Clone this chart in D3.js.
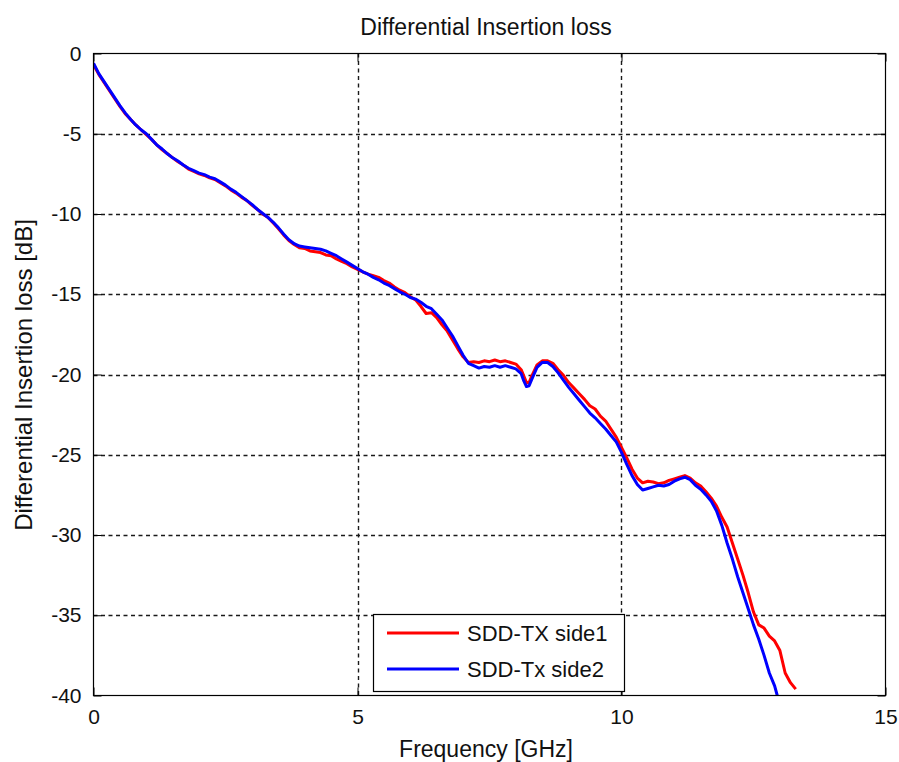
<!DOCTYPE html>
<html>
<head>
<meta charset="utf-8">
<script src="https://cdn.jsdelivr.net/npm/d3@7"></script>
<style>
  html, body { margin: 0; padding: 0; background: #fff; }
  svg { display: block; }
  text { font-family: "Liberation Sans", Arial, sans-serif; fill: #111; }
</style>
</head>
<body>
<svg id="chart" width="899" height="762"></svg>
<script>
// Measured differential insertion loss (dB) versus frequency (GHz)
const freqSide1 = [0.0,0.1,0.2,0.3,0.4,0.5,0.6,0.7,0.8,0.9,1.0,1.1,1.2,1.3,1.4,1.5,1.6,1.7,1.8,1.9,2.0,2.1,2.2,2.3,2.4,2.5,2.6,2.7,2.8,2.9,3.0,3.1,3.2,3.3,3.4,3.5,3.6,3.7,3.8,3.9,4.0,4.1,4.2,4.3,4.4,4.5,4.6,4.7,4.8,4.9,5.0,5.1,5.2,5.3,5.4,5.5,5.6,5.7,5.8,5.9,6.0,6.1,6.2,6.3,6.4,6.5,6.6,6.7,6.8,6.9,7.0,7.1,7.2,7.3,7.4,7.5,7.6,7.7,7.8,7.9,8.0,8.1,8.15,8.2,8.25,8.3,8.4,8.5,8.6,8.7,8.8,8.9,9.0,9.1,9.2,9.3,9.4,9.5,9.6,9.7,9.8,9.9,10.0,10.1,10.2,10.3,10.4,10.5,10.6,10.7,10.8,10.9,11.0,11.1,11.2,11.3,11.4,11.5,11.6,11.7,11.8,11.9,12.0,12.1,12.2,12.3,12.4,12.5,12.6,12.7,12.8,12.9,13.0,13.1,13.2,13.3];
const lossSide1 = [-0.7,-1.3,-1.8,-2.3,-2.8,-3.3,-3.75,-4.1,-4.45,-4.75,-5.05,-5.35,-5.7,-6.0,-6.25,-6.5,-6.75,-6.95,-7.2,-7.35,-7.5,-7.6,-7.75,-7.85,-8.05,-8.25,-8.5,-8.7,-8.95,-9.15,-9.45,-9.7,-10.0,-10.2,-10.55,-10.9,-11.3,-11.65,-11.9,-12.1,-12.15,-12.3,-12.35,-12.4,-12.55,-12.6,-12.8,-12.95,-13.1,-13.3,-13.45,-13.6,-13.75,-13.85,-13.95,-14.15,-14.3,-14.55,-14.75,-14.9,-15.15,-15.35,-15.75,-16.2,-16.15,-16.45,-16.9,-17.3,-17.85,-18.4,-18.9,-19.25,-19.2,-19.25,-19.15,-19.2,-19.1,-19.2,-19.15,-19.25,-19.35,-19.7,-20.1,-20.5,-20.5,-20.1,-19.4,-19.15,-19.15,-19.3,-19.7,-20.05,-20.5,-20.85,-21.2,-21.55,-21.95,-22.15,-22.6,-22.9,-23.4,-23.9,-24.55,-25.2,-25.9,-26.45,-26.75,-26.65,-26.7,-26.8,-26.75,-26.6,-26.5,-26.4,-26.3,-26.45,-26.75,-26.95,-27.3,-27.7,-28.2,-28.9,-29.5,-30.5,-31.5,-32.5,-33.6,-34.8,-35.6,-35.8,-36.3,-36.6,-37.2,-38.6,-39.2,-39.6,-40.0];

const freqSide2 = [0.0,0.1,0.2,0.3,0.4,0.5,0.6,0.7,0.8,0.9,1.0,1.1,1.2,1.3,1.4,1.5,1.6,1.7,1.8,1.9,2.0,2.1,2.2,2.3,2.4,2.5,2.6,2.7,2.8,2.9,3.0,3.1,3.2,3.3,3.4,3.5,3.6,3.7,3.8,3.9,4.0,4.1,4.2,4.3,4.4,4.5,4.6,4.7,4.8,4.9,5.0,5.1,5.2,5.3,5.4,5.5,5.6,5.7,5.8,5.9,6.0,6.1,6.2,6.3,6.4,6.5,6.6,6.7,6.8,6.9,7.0,7.1,7.2,7.3,7.4,7.5,7.6,7.7,7.8,7.9,8.0,8.1,8.15,8.2,8.25,8.3,8.4,8.5,8.6,8.7,8.8,8.9,9.0,9.1,9.2,9.3,9.4,9.5,9.6,9.7,9.8,9.9,10.0,10.1,10.2,10.3,10.4,10.5,10.6,10.7,10.8,10.9,11.0,11.1,11.2,11.3,11.4,11.5,11.6,11.7,11.8,11.9,12.0,12.1,12.2,12.3,12.4,12.5,12.6,12.7,12.8,12.9,12.95];
const lossSide2 = [-0.6,-1.25,-1.75,-2.25,-2.75,-3.25,-3.7,-4.1,-4.45,-4.75,-5.0,-5.35,-5.7,-5.95,-6.25,-6.5,-6.7,-6.95,-7.15,-7.3,-7.45,-7.55,-7.7,-7.8,-8.0,-8.2,-8.45,-8.65,-8.9,-9.15,-9.4,-9.7,-9.95,-10.2,-10.5,-10.85,-11.25,-11.6,-11.85,-12.0,-12.05,-12.1,-12.15,-12.2,-12.3,-12.45,-12.6,-12.8,-13.0,-13.2,-13.4,-13.6,-13.75,-13.95,-14.1,-14.3,-14.45,-14.65,-14.85,-15.0,-15.2,-15.3,-15.5,-15.75,-15.9,-16.25,-16.6,-17.1,-17.6,-18.2,-18.8,-19.3,-19.45,-19.6,-19.5,-19.55,-19.45,-19.55,-19.45,-19.55,-19.65,-19.95,-20.4,-20.75,-20.7,-20.3,-19.55,-19.25,-19.25,-19.5,-19.9,-20.35,-20.8,-21.2,-21.6,-22.0,-22.4,-22.7,-23.05,-23.4,-23.8,-24.2,-24.85,-25.6,-26.3,-26.85,-27.2,-27.1,-27.0,-26.9,-26.95,-26.85,-26.65,-26.5,-26.4,-26.55,-26.9,-27.15,-27.5,-27.9,-28.5,-29.4,-30.5,-31.5,-32.6,-33.6,-34.6,-35.6,-36.5,-37.5,-38.6,-39.4,-40.0];

const seriesNames = ["SDD-TX side1", "SDD-Tx side2"];
const seriesColors = ["#ff0000", "#0000ff"];
const xTicks = [0, 5, 10, 15];
const yTicks = [0, -5, -10, -15, -20, -25, -30, -35, -40];

const svg = d3.select("#chart");
const margin = { left: 93.5, right: 885.5, top: 53.5, bottom: 695.5 };

const x = d3.scaleLinear().domain([0, 15]).range([margin.left, margin.right]);
const y = d3.scaleLinear().domain([-40, 0]).range([margin.bottom, margin.top]);

// plot background
svg.append("rect")
  .attr("x", margin.left).attr("y", margin.top)
  .attr("width", margin.right - margin.left).attr("height", margin.bottom - margin.top)
  .attr("fill", "#fff");

// dashed grid
const grid = svg.append("g").attr("stroke", "#1a1a1a").attr("stroke-width", 1.4).attr("stroke-dasharray", "4,3.5");
grid.selectAll("line.gx").data(xTicks.slice(1, -1)).join("line")
  .attr("x1", d => Math.round(x(d)) + 0.5).attr("x2", d => Math.round(x(d)) + 0.5)
  .attr("y1", margin.top).attr("y2", margin.bottom);
grid.selectAll("line.gy").data(yTicks.slice(1, -1)).join("line")
  .attr("y1", d => Math.round(y(d)) + 0.5).attr("y2", d => Math.round(y(d)) + 0.5)
  .attr("x1", margin.left).attr("x2", margin.right);

// axes with inward ticks on all four sides; labels use a plain hyphen for negatives
const tickLen = 8;
const plain = d => String(d);
const axBottom = d3.axisBottom(x).tickValues(xTicks).tickSize(-tickLen).tickPadding(14).tickFormat(plain);
const axTop = d3.axisTop(x).tickValues(xTicks).tickSize(-tickLen).tickFormat("");
const axLeft = d3.axisLeft(y).tickValues(yTicks).tickSize(-tickLen).tickPadding(12).tickFormat(plain);
const axRight = d3.axisRight(y).tickValues(yTicks).tickSize(-tickLen).tickFormat("");

function styleAxis(g) {
  g.selectAll("path.domain").remove();
  g.selectAll("line").attr("stroke", "#000");
  g.selectAll("text").style("font-size", "21px").attr("fill", "#111");
}
svg.append("g").attr("transform", `translate(0,${margin.bottom})`).call(axBottom).call(styleAxis);
svg.append("g").attr("transform", `translate(0,${margin.top})`).call(axTop).call(styleAxis);
svg.append("g").attr("transform", `translate(${margin.left},0)`).call(axLeft).call(styleAxis);
svg.append("g").attr("transform", `translate(${margin.right},0)`).call(axRight).call(styleAxis);

// clip traces to the plot box
svg.append("clipPath").attr("id", "plotClip").append("rect")
  .attr("x", margin.left).attr("y", margin.top)
  .attr("width", margin.right - margin.left).attr("height", margin.bottom - margin.top);

const line = d3.line().x(d => x(d[0])).y(d => y(d[1]));
const series = [
  d3.zip(freqSide1, lossSide1),
  d3.zip(freqSide2, lossSide2)
];
svg.append("g").attr("clip-path", "url(#plotClip)")
  .selectAll("path").data(series).join("path")
  .attr("d", line)
  .attr("fill", "none")
  .attr("stroke", (d, i) => seriesColors[i])
  .attr("stroke-width", 3)
  .attr("stroke-linejoin", "round");

// frame
svg.append("rect")
  .attr("x", margin.left).attr("y", margin.top)
  .attr("width", margin.right - margin.left).attr("height", margin.bottom - margin.top)
  .attr("fill", "none").attr("stroke", "#000").attr("stroke-width", 1.2);

// titles
svg.append("text").attr("x", 486).attr("y", 35).attr("text-anchor", "middle")
  .style("font-size", "23px").text("Differential Insertion loss");
svg.append("text").attr("x", 486).attr("y", 757).attr("text-anchor", "middle")
  .style("font-size", "23px").text("Frequency [GHz]");
svg.append("text").attr("transform", "translate(32,375) rotate(-90)").attr("text-anchor", "middle")
  .style("font-size", "24px").text("Differential Insertion loss [dB]");

// legend
const lg = svg.append("g");
lg.append("rect").attr("x", 373.5).attr("y", 614.5).attr("width", 251).attr("height", 77)
  .attr("fill", "#fff").attr("stroke", "#000").attr("stroke-width", 1.2);
seriesNames.forEach((name, i) => {
  const ly = 633 + i * 36;
  lg.append("line").attr("x1", 387).attr("x2", 459).attr("y1", ly).attr("y2", ly)
    .attr("stroke", seriesColors[i]).attr("stroke-width", 3);
  lg.append("text").attr("x", 467).attr("y", ly + 8).style("font-size", "22px").text(name);
});
</script>
</body>
</html>
